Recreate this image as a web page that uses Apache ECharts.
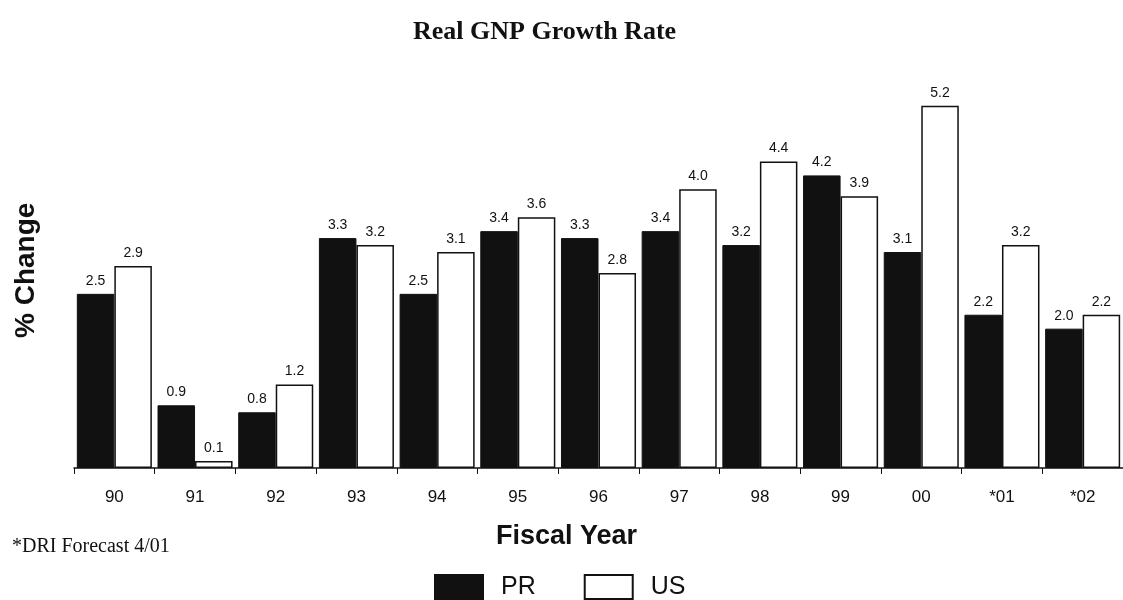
<!DOCTYPE html>
<html>
<head>
<meta charset="utf-8">
<script src="https://cdn.jsdelivr.net/npm/echarts@6/dist/echarts.min.js"></script>
<style>
  html, body { margin: 0; padding: 0; background: #fff; }
  #chart { width: 1123px; height: 600px; }
</style>
</head>
<body>
<div id="chart"></div>
<script>
const years = ['90', '91', '92', '93', '94', '95', '96', '97', '98', '99', '00', '*01', '*02'];
const prGrowth = [2.5, 0.9, 0.8, 3.3, 2.5, 3.4, 3.3, 3.4, 3.2, 4.2, 3.1, 2.2, 2.0];
const usGrowth = [2.9, 0.1, 1.2, 3.2, 3.1, 3.6, 2.8, 4.0, 4.4, 3.9, 5.2, 3.2, 2.2];

const chart = echarts.init(document.getElementById('chart'));

const valueLabel = {
  show: true,
  position: 'top',
  distance: 6,
  color: '#111',
  fontFamily: 'Liberation Sans, Arial, sans-serif',
  fontSize: 14,
  formatter: (p) => p.value.toFixed(1),
};

const option = {
  animation: false,
  backgroundColor: '#fff',
  title: {
    text: 'Real GNP Growth Rate',
    left: 408,
    top: 14,
    textStyle: {
      fontFamily: 'Liberation Serif, Times New Roman, serif',
      fontWeight: 'bold',
      fontSize: 26,
      color: '#111',
    },
  },
  legend: {
    left: 429,
    top: 569,
    itemWidth: 48,
    itemHeight: 24,
    itemGap: 48,
    icon: 'rect',
    textStyle: {
      fontFamily: 'Liberation Sans, Arial, sans-serif',
      fontSize: 25,
      color: '#111',
      padding: [0, 0, 0, 13],
    },
    data: ['PR', 'US'],
  },
  grid: {
    left: 74,
    top: 50,
    width: 1061,
    height: 418,
  },
  xAxis: {
    type: 'category',
    data: years,
    axisLine: { lineStyle: { color: '#111', width: 1.5 } },
    axisTick: { show: true, length: 6, lineStyle: { color: '#111' } },
    axisLabel: {
      margin: 21,
      color: '#111',
      fontFamily: 'Liberation Sans, Arial, sans-serif',
      fontSize: 17,
    },
  },
  yAxis: {
    type: 'value',
    min: 0,
    max: 6,
    show: false,
    splitLine: { show: false },
  },
  graphic: [
    {
      type: 'text',
      x: 12,
      y: 338,
      rotation: Math.PI / 2,
      style: {
        text: '% Change',
        fill: '#111',
        font: 'bold 28px "Liberation Sans", Arial, sans-serif',
        textBaseline: 'top',
      },
    },
    {
      type: 'text',
      left: 496,
      top: 523,
      style: {
        text: 'Fiscal Year',
        fill: '#111',
        font: 'bold 27px "Liberation Sans", Arial, sans-serif',
      },
    },
    {
      type: 'text',
      left: 12,
      top: 537,
      style: {
        text: '*DRI Forecast 4/01',
        fill: '#111',
        font: '20px "Liberation Serif", "Times New Roman", serif',
      },
    },
  ],
  series: [
    {
      name: 'PR',
      type: 'bar',
      data: prGrowth,
      barGap: '0%',
      barCategoryGap: '7%',
      itemStyle: { color: '#111', borderColor: '#111', borderWidth: 1 },
      label: valueLabel,
    },
    {
      name: 'US',
      type: 'bar',
      data: usGrowth,
      itemStyle: { color: '#fff', borderColor: '#111', borderWidth: 1.5 },
      label: valueLabel,
    },
  ],
};

chart.setOption(option);
</script>
</body>
</html>
